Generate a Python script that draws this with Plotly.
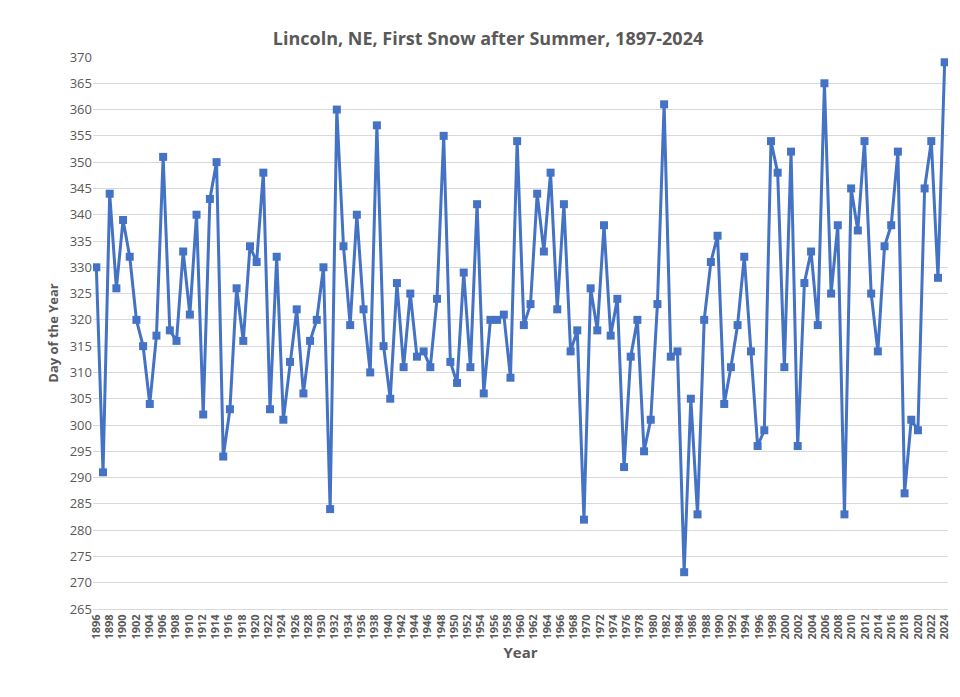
import plotly.graph_objects as go

years = list(range(1897, 2025))
first_snow_day = [330, 291, 344, 326, 339, 332, 320, 315, 304, 317, 351, 318, 316, 333, 321, 340, 302, 343, 350, 294,
                  303, 326, 316, 334, 331, 348, 303, 332, 301, 312, 322, 306, 316, 320, 330, 284, 360, 334, 319, 340,
                  322, 310, 357, 315, 305, 327, 311, 325, 313, 314, 311, 324, 355, 312, 308, 329, 311, 342, 306, 320,
                  320, 321, 309, 354, 319, 323, 344, 333, 348, 322, 342, 314, 318, 282, 326, 318, 338, 317, 324, 292,
                  313, 320, 295, 301, 323, 361, 313, 314, 272, 305, 283, 320, 331, 336, 304, 311, 319, 332, 314, 296,
                  299, 354, 348, 311, 352, 296, 327, 333, 319, 365, 325, 338, 283, 345, 337, 354, 325, 314, 334, 338,
                  352, 287, 301, 299, 345, 354, 328, 369]
x_tick_labels = list(range(1896, 2025, 2))
y_ticks = list(range(265, 371, 5))

# reference axis spreads its 1896..2024 labels across the first..last data point
x_tick_pos = [years[0] + (lab - 1896) * (years[-1] - years[0]) / (2024 - 1896) for lab in x_tick_labels]

fig = go.Figure(go.Scatter(
    x=years, y=first_snow_day, mode="lines+markers",
    line=dict(color="#4472C4", width=3),
    marker=dict(symbol="square", size=8, color="#4472C4"),
))
grey = "#595959"
fig.update_layout(
    width=960, height=697, paper_bgcolor="white", plot_bgcolor="white",
    margin=dict(l=85, r=20, t=49, b=96),
    title=dict(text="<b>Lincoln, NE, First Snow after Summer, 1897-2024</b>", x=0.5, y=0.965,
               font=dict(family="Open Sans", size=18, color=grey)),
    showlegend=False,
    font=dict(family="Open Sans", color=grey),
)
fig.update_xaxes(range=[1896.5, 2024.5], tickvals=x_tick_pos, ticktext=[str(t) for t in x_tick_labels],
                 tickangle=-90, tickfont=dict(size=11, color=grey, weight="bold"),
                 showgrid=False, showline=True, linecolor="#d9d9d9",
                 title=dict(text="<b>Year</b>", font=dict(size=15, color=grey), standoff=8))
fig.update_yaxes(range=[265, 370], tickvals=y_ticks,
                 tickfont=dict(size=13, color=grey),
                 showgrid=True, gridcolor="#d9d9d9", zeroline=False,
                 title=dict(text="<b>Day of the Year</b>", font=dict(size=13, color=grey), standoff=8))
fig.write_html("out.html")
